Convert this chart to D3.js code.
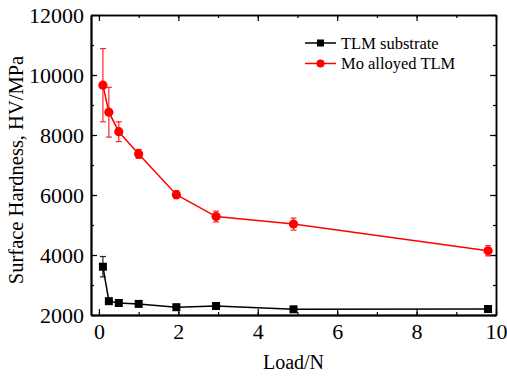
<!DOCTYPE html>
<html>
<head>
<meta charset="utf-8">
<script src="https://cdn.jsdelivr.net/npm/d3@7"></script>
<style>
  body { margin: 0; background: #fff; }
</style>
</head>
<body>
<div id="chart"></div>
<script>
// load in N
var loads = [0.1, 0.25, 0.5, 1, 1.95, 2.95, 4.9, 9.8];
var substrate = [3610, 2460, 2400, 2370, 2260, 2300, 2190, 2200];
var substrateErr = [340, 60, 80, 50, 40, 40, 30, 30];
var alloyed = [9660, 8760, 8110, 7370, 6010, 5280, 5030, 4140];
var alloyedErr = [1220, 830, 330, 150, 130, 180, 200, 170];
var xTicks = [0, 2, 4, 6, 8, 10];
var yTicks = [2000, 4000, 6000, 8000, 10000, 12000];
var seriesNames = ["TLM substrate", "Mo alloyed TLM"];

var serif = "'Liberation Serif', 'Times New Roman', Times, 'DejaVu Serif', serif";

var width = 507, height = 376;
var margin = {top: 15, right: 11, bottom: 61, left: 91};

var svg = d3.select("#chart").append("svg")
    .attr("width", width)
    .attr("height", height)
    .style("font-family", serif);

var x = d3.scaleLinear().domain([-0.2, 10]).range([margin.left, width - margin.right]);
var y = d3.scaleLinear().domain([2000, 12000]).range([height - margin.bottom, margin.top]);

var x0 = margin.left, x1 = width - margin.right, y0 = height - margin.bottom, y1 = margin.top;

var xMinor = d3.range(0, 10.01, 1);
var yMinor = d3.range(2000, 12001, 1000);

// axes, ticks pointing inward
var bottomG = svg.append("g").attr("transform", `translate(0,${y0})`)
    .call(d3.axisBottom(x).tickValues(xTicks).tickSize(-6).tickPadding(8).tickSizeOuter(0));
svg.append("g").attr("transform", `translate(0,${y0})`)
    .call(d3.axisBottom(x).tickValues(xMinor).tickSize(-3).tickFormat("").tickSizeOuter(0));
svg.append("g").attr("transform", `translate(0,${y1})`)
    .call(d3.axisTop(x).tickValues(xTicks).tickSize(-6).tickFormat("").tickSizeOuter(0));
svg.append("g").attr("transform", `translate(0,${y1})`)
    .call(d3.axisTop(x).tickValues(xMinor).tickSize(-3).tickFormat("").tickSizeOuter(0));
var leftG = svg.append("g").attr("transform", `translate(${x0},0)`)
    .call(d3.axisLeft(y).tickValues(yTicks).tickSize(-6).tickPadding(7).tickFormat(d3.format("d")).tickSizeOuter(0));
svg.append("g").attr("transform", `translate(${x0},0)`)
    .call(d3.axisLeft(y).tickValues(yMinor).tickSize(-3).tickFormat("").tickSizeOuter(0));
svg.append("g").attr("transform", `translate(${x1},0)`)
    .call(d3.axisRight(y).tickValues(yTicks).tickSize(-6).tickFormat("").tickSizeOuter(0));
svg.append("g").attr("transform", `translate(${x1},0)`)
    .call(d3.axisRight(y).tickValues(yMinor).tickSize(-3).tickFormat("").tickSizeOuter(0));

svg.selectAll("g").attr("font-family", null);
svg.selectAll(".domain").attr("stroke", "#000").attr("stroke-width", 1.5);
svg.selectAll(".tick line").attr("stroke", "#000").attr("stroke-width", 1.2);
svg.selectAll(".tick text")
    .style("font-family", serif)
    .style("font-size", "22px")
    .attr("fill", "#000");
leftG.select(".domain").attr("stroke-width", 2);
bottomG.select(".domain").attr("stroke-width", 2);

// axis titles
svg.append("text")
    .attr("x", (x0 + x1) / 2)
    .attr("y", 369)
    .attr("text-anchor", "middle")
    .style("font-family", serif)
    .style("font-size", "20px")
    .text("Load/N");

svg.append("text")
    .attr("transform", "translate(23,170) rotate(-90)")
    .attr("text-anchor", "middle")
    .style("font-family", serif)
    .style("font-size", "20.5px")
    .text("Surface Hardness, HV/MPa");

// series
var series = [
    {name: seriesNames[0], vals: substrate, err: substrateErr, color: "#000", shape: "square"},
    {name: seriesNames[1], vals: alloyed, err: alloyedErr, color: "#ff0000", shape: "circle"}
];

var line = d3.line().x(d => x(d[0])).y(d => y(d[1]));

series.forEach(function(s) {
    var pts = loads.map((l, i) => [l, s.vals[i], s.err[i]]);
    var g = svg.append("g");

    g.append("path")
        .datum(pts)
        .attr("fill", "none")
        .attr("stroke", s.color)
        .attr("stroke-width", 1.5)
        .attr("d", line);

    var eb = g.selectAll(".err").data(pts).enter().append("g")
        .attr("stroke", s.color).attr("stroke-width", 1.2).attr("opacity", 0.85);
    eb.append("line")
        .attr("x1", d => x(d[0])).attr("x2", d => x(d[0]))
        .attr("y1", d => y(d[1] + d[2])).attr("y2", d => y(d[1] - d[2]));
    eb.append("line")
        .attr("x1", d => x(d[0]) - 3).attr("x2", d => x(d[0]) + 3)
        .attr("y1", d => y(d[1] + d[2])).attr("y2", d => y(d[1] + d[2]));
    eb.append("line")
        .attr("x1", d => x(d[0]) - 3).attr("x2", d => x(d[0]) + 3)
        .attr("y1", d => y(d[1] - d[2])).attr("y2", d => y(d[1] - d[2]));

    if (s.shape === "square") {
        g.selectAll(".mk").data(pts).enter().append("rect")
            .attr("x", d => x(d[0]) - 4).attr("y", d => y(d[1]) - 4)
            .attr("width", 8).attr("height", 8)
            .attr("fill", s.color);
    } else {
        g.selectAll(".mk").data(pts).enter().append("circle")
            .attr("cx", d => x(d[0])).attr("cy", d => y(d[1]))
            .attr("r", 4.6)
            .attr("fill", s.color);
    }
});

// legend
var legend = svg.append("g");
series.forEach(function(s, i) {
    var ly = 43 + i * 20.5;
    legend.append("line")
        .attr("x1", 305).attr("x2", 336)
        .attr("y1", ly).attr("y2", ly)
        .attr("stroke", s.color).attr("stroke-width", 1.5);
    if (s.shape === "square") {
        legend.append("rect").attr("x", 317).attr("y", ly - 3.5).attr("width", 7).attr("height", 7).attr("fill", s.color);
    } else {
        legend.append("circle").attr("cx", 320.5).attr("cy", ly).attr("r", 4).attr("fill", s.color);
    }
    legend.append("text")
        .attr("x", 341).attr("y", ly + 5.5)
        .style("font-family", serif)
        .style("font-size", "16.5px")
        .text(s.name);
});
</script>
</body>
</html>
